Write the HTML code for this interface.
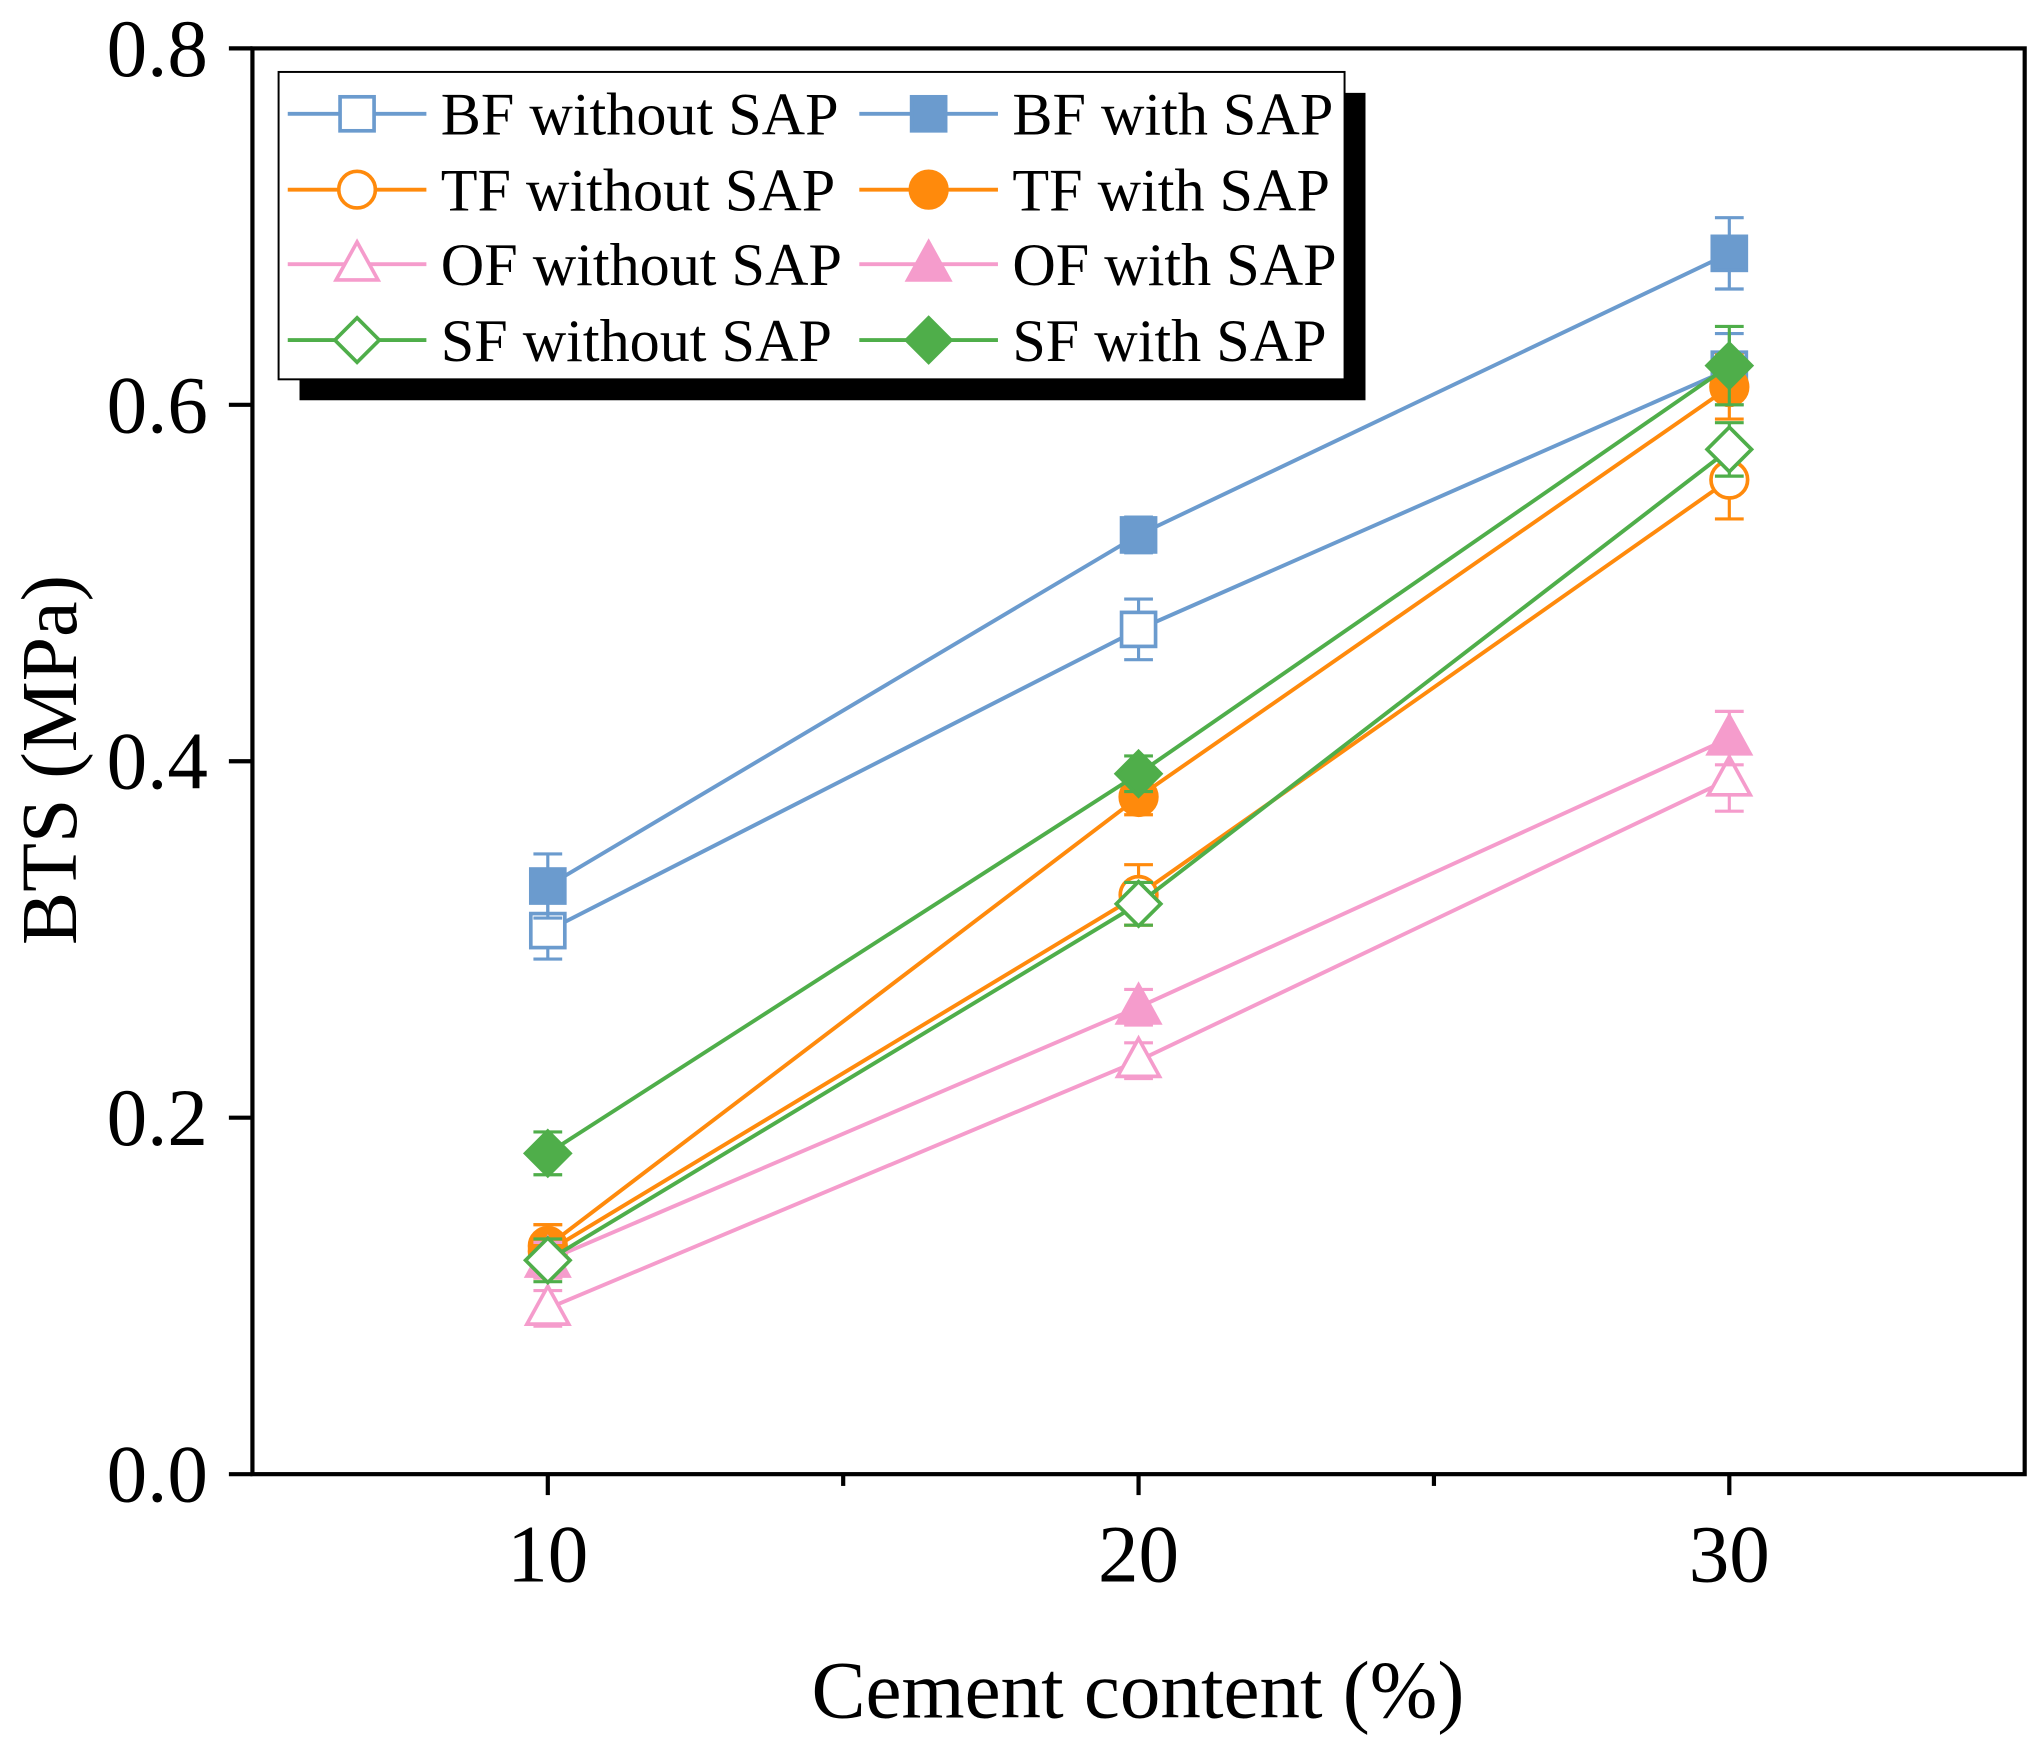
<!DOCTYPE html>
<html><head><meta charset="utf-8"><style>
html,body{margin:0;padding:0;background:#fff;}
svg{display:block;font-family:"Liberation Serif",serif;}
</style></head><body>
<svg id="chart" width="2043" height="1741" viewBox="0 0 1562 1331" preserveAspectRatio="none" xmlns="http://www.w3.org/2000/svg">
<rect x="0" y="0" width="1562" height="1331" fill="#fff"/>
<g id="marks"></g>
<g id="axes"></g>
<g id="legend"></g>
</svg>
<script>
const categories = [10, 20, 30];
const seriesNames = ["BF without SAP","BF with SAP","TF without SAP","TF with SAP","OF without SAP","OF with SAP","SF without SAP","SF with SAP"];
const bfWithout = [0.305, 0.474, 0.620];
const bfWith = [0.330, 0.527, 0.685];
const tfWithout = [0.125, 0.325, 0.558];
const tfWith = [0.128, 0.380, 0.610];
const ofWithout = [0.093, 0.232, 0.390];
const ofWith = [0.120, 0.262, 0.413];
const sfWithout = [0.120, 0.320, 0.575];
const sfWith = [0.180, 0.393, 0.622];
const errBfWithout = [0.016, 0.017, 0.020];
const errBfWith = [0.018, 0.010, 0.020];
const errTfWithout = [0.015, 0.017, 0.022];
const errTfWith = [0.012, 0.010, 0.018];
const errOfWithout = [0.010, 0.010, 0.018];
const errOfWith = [0.010, 0.010, 0.015];
const errSfWithout = [0.012, 0.012, 0.015];
const errSfWith = [0.012, 0.010, 0.022];
const yTicks = ["0.0","0.2","0.4","0.6","0.8"];
const xTicks = ["10","20","30"];

const NS="http://www.w3.org/2000/svg";
const L=193,R=1548,T=37,B=1127,XMIN=5,XMAX=35,YMIN=0,YMAX=0.8;
const xs=v=>L+(v-XMIN)/(XMAX-XMIN)*(R-L);
const ys=v=>B-(v-YMIN)/(YMAX-YMIN)*(B-T);
function mk(tag,attrs,parent){const e=document.createElementNS(NS,tag);for(const k in attrs)e.setAttribute(k,attrs[k]);parent.appendChild(e);return e;}
const marks=document.getElementById('marks'),axes=document.getElementById('axes'),legend=document.getElementById('legend');
const BLUE="#6b9bce",ORANGE="#ff8a0c",PINK="#f59ccc",GREEN="#4fae4a";
const series=[
 {name:seriesNames[0],v:bfWithout,e:errBfWithout,c:BLUE,shape:"square",fill:false},
 {name:seriesNames[1],v:bfWith,e:errBfWith,c:BLUE,shape:"square",fill:true},
 {name:seriesNames[2],v:tfWithout,e:errTfWithout,c:ORANGE,shape:"circle",fill:false},
 {name:seriesNames[3],v:tfWith,e:errTfWith,c:ORANGE,shape:"circle",fill:true},
 {name:seriesNames[4],v:ofWithout,e:errOfWithout,c:PINK,shape:"triangle",fill:false},
 {name:seriesNames[5],v:ofWith,e:errOfWith,c:PINK,shape:"triangle",fill:true},
 {name:seriesNames[6],v:sfWithout,e:errSfWithout,c:GREEN,shape:"diamond",fill:false},
 {name:seriesNames[7],v:sfWith,e:errSfWith,c:GREEN,shape:"diamond",fill:true}
];
function marker(shape,cx,cy,c,fill,parent){
 const a={fill:fill?c:"#fff",stroke:c,"stroke-width":2.8};let e;
 if(shape==="square"){e=mk('rect',Object.assign({x:cx-13,y:cy-13,width:26,height:26},a),parent);}
 else if(shape==="circle"){e=mk('circle',Object.assign({cx:cx,cy:cy,r:14},a),parent);}
 else if(shape==="triangle"){e=mk('polygon',Object.assign({points:`${cx},${cy-17} ${cx+16},${cy+12} ${cx-16},${cy+12}`},a),parent);}
 else {e=mk('polygon',Object.assign({points:`${cx},${cy-17} ${cx+17},${cy} ${cx},${cy+17} ${cx-17},${cy}`},a),parent);}
 return e;
}
series.forEach((s,si)=>{
 const g=mk('g',{},marks);
 
 
 const pts=s.v.map((v,i)=>xs(categories[i])+','+ys(v)).join(' ');
 const pl=mk('polyline',{points:pts,fill:'none',stroke:s.c,'stroke-width':3},g);
 
 
 s.v.forEach((v,i)=>{
  const x=xs(categories[i]),y1=ys(v+s.e[i]),y2=ys(v-s.e[i]);
  const eb=mk('path',{d:`M${x},${y1}V${y2}M${x-11},${y1}H${x+11}M${x-11},${y2}H${x+11}`,stroke:s.c,'stroke-width':2.4,fill:'none'},g);
  
  
 });
 s.v.forEach((v,i)=>{
  const m=marker(s.shape,xs(categories[i]),ys(v),s.c,s.fill,g);
  
  
 });
});
const frame=mk('rect',{x:L,y:T,width:R-L,height:B-T,fill:'none',stroke:'#000','stroke-width':3.2},axes);


yTicks.forEach(t=>{
 const y=ys(parseFloat(t));
 mk('line',{x1:L-18,x2:L,y1:y,y2:y,stroke:'#000','stroke-width':3.2},axes);
 const tx=mk('text',{x:L-34,y:y+21,'text-anchor':'end','font-size':62},axes);tx.textContent=t;
 
 
});
xTicks.forEach(t=>{
 const x=xs(parseFloat(t));
 mk('line',{x1:x,x2:x,y1:B,y2:B+16,stroke:'#000','stroke-width':3.2},axes);
 const tx=mk('text',{x:x,y:B+82,'text-anchor':'middle','font-size':62},axes);tx.textContent=t;
 
 
});
[15,25].forEach(v=>mk('line',{x1:xs(v),x2:xs(v),y1:B,y2:B+9,stroke:'#000','stroke-width':3.2},axes));
const xt=mk('text',{x:870,y:1313,'text-anchor':'middle','font-size':62},axes);xt.textContent="Cement content (%)";


const yt=mk('text',{x:0,y:0,'text-anchor':'middle','font-size':61,transform:'translate(58,581) rotate(-90)'},axes);yt.textContent="BTS (MPa)";


const sh=mk('rect',{x:229,y:71,width:815,height:235,fill:'#000'},legend);


const lb=mk('rect',{x:213,y:55,width:815,height:235,fill:'#fff',stroke:'#000','stroke-width':1.5},legend);


const rowsY=[87,145,202,260];
series.forEach((s,i)=>{
 const col=i%2,row=Math.floor(i/2);
 const x0=col?657:220,y=rowsY[row];
 const g=mk('g',{},legend);
 
 
 mk('line',{x1:x0,x2:x0+106,y1:y,y2:y,stroke:s.c,'stroke-width':3},g);
 marker(s.shape,x0+53,y,s.c,s.fill,g);
 const t=mk('text',{x:x0+117,y:y+16,'font-size':46},g);t.textContent=s.name;
});
</script>
</body></html>
